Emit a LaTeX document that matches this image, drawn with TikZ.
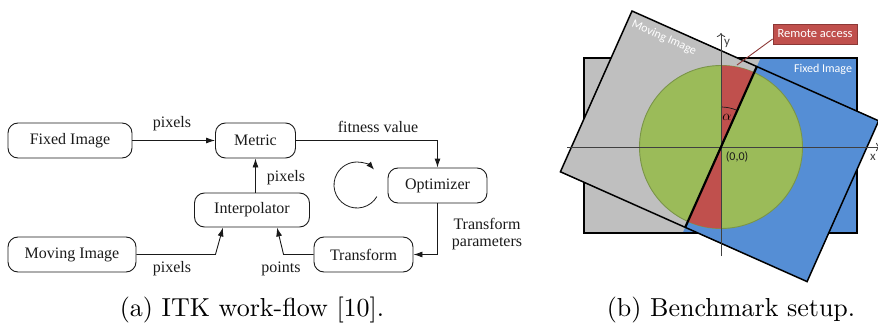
\documentclass[tikz,border=0pt]{standalone}
\usepackage{fontspec}
\newfontfamily\flowfont{Liberation Serif}
\newfontfamily\calfont{Carlito}
\newfontfamily\capfont{lmroman10-regular.otf}
\usetikzlibrary{arrows.meta,calc}
\definecolor{imggray}{HTML}{BFBFBF}
\definecolor{imgblue}{HTML}{558ED5}
\definecolor{circgreen}{HTML}{9BBB59}
\definecolor{circgreendark}{HTML}{7A9548}
\definecolor{accred}{HTML}{C0504D}
\definecolor{accreddark}{HTML}{8C3836}
\definecolor{axisgray}{HTML}{404040}
\definecolor{inkc}{HTML}{1A1A1A}
\begin{document}
\begin{tikzpicture}[x=1pt,y=1pt,
  block/.style={draw=inkc, rounded corners=10pt, line width=0.9pt, inner sep=0pt, text=inkc,
                font=\flowfont\fontsize{16}{19}\selectfont},
  flow/.style={draw=inkc, line width=0.9pt, -{Latex[length=9pt,width=6pt]}},
  lbl/.style={font=\flowfont\fontsize{16}{16.5}\selectfont, inner sep=0pt, text=inkc},
  side/.style={font=\calfont\fontsize{12}{14}\selectfont, inner sep=0pt},
  captext/.style={font=\capfont\fontsize{26}{30}\selectfont, inner sep=0pt}]
\useasboundingbox (0,0) rectangle (878,-326);

% ---------------- (a) flowchart ----------------
\node[block, minimum width=124pt, minimum height=35pt] (fixed) at (70,-140.5) {Fixed Image};
\node[block, minimum width=80pt, minimum height=35pt] (metric) at (255.5,-140.5) {Metric};
\node[block, minimum width=115pt, minimum height=34pt] (interp) at (252,-210) {Interpolator};
\node[block, minimum width=128pt, minimum height=35pt] (moving) at (72,-254.5) {Moving Image};
\node[block, minimum width=99pt, minimum height=35pt] (optim) at (437.5,-185.5) {Optimizer};
\node[block, minimum width=99pt, minimum height=35pt] (transf) at (363.5,-254.5) {Transform};

\draw[flow] (fixed.east) -- (metric.west);
\draw[flow] (metric.east) -| (optim.north);
\draw[flow] (metric.south |- interp.north) -- (metric.south);
\coordinate (mvbend) at ($(moving.east)+(79,0)$);
\coordinate (mvend) at ($(interp.south)+(-29,0)$);
\draw[flow] (moving.east) -- (mvbend) -- (mvend);
\coordinate (trbend) at ($(transf.west)+(-30,0)$);
\coordinate (trend) at ($(interp.south)+(25,0)$);
\draw[flow] (transf.west) -- (trbend) -- (trend);
\draw[flow] (optim.south) |- (transf.east);

\node[lbl] (l1) at (172,-124) {pixels};
\node[lbl] (l2) at (378,-127) {fitness value};
\node[lbl] (l3) at (286,-178) {pixels};
\node[lbl] (l4) at (172,-269) {pixels};
\node[lbl] (l5) at (281,-269) {points};
\node[lbl, align=center] (l6) at (487,-234) {Transform\\parameters};

\coordinate (loopc) at (357,-185);
\draw[draw=inkc, line width=0.8pt, -{Latex[length=8pt,width=6pt]}]
  ($(loopc)+(-30:23)$) arc[start angle=-30, end angle=-318, radius=23];

\node[captext] (capa) at (252,-310) {(a) ITK work-flow [10].};

% ---------------- (b) benchmark setup ----------------
\coordinate (O) at (721,-147);
\coordinate (TL) at (632,-11);
\coordinate (TR) at ($(TL)+(-24:270)$);
\coordinate (BL) at ($(TL)+(-114:176)$);
\coordinate (BR) at ($(BL)+(-24:270)$);
\coordinate (Ptop) at ($(TL)!(O)!(TR)$);
\coordinate (Pbot) at ($(BL)!(O)!(BR)$);
\coordinate (H1) at ($(Ptop)!-2!(Pbot)$);
\coordinate (H2) at ($(Pbot)!-2!(Ptop)$);

% fixed image
\fill[imggray] (584,-58) rectangle (857,-233);
\begin{scope}
  \clip (H1) -- (H2) -- ([xshift=600pt]H2) -- ([xshift=600pt]H1) -- cycle;
  \fill[imgblue] (584,-58) rectangle (857,-233);
\end{scope}
\draw[line width=1.3pt] (584,-58) rectangle (857,-233);

% moving image
\fill[imggray] (TL) -- (Ptop) -- (Pbot) -- (BL) -- cycle;
\fill[imgblue] (Ptop) -- (TR) -- (BR) -- (Pbot) -- cycle;
\draw[line width=1.5pt, line join=miter] (TL) -- (TR) -- (BR) -- (BL) -- cycle;

% circle and sectors
\fill[circgreen, draw=circgreendark, line width=0.9pt] (O) circle[radius=81.5];
\fill[accred] (O) -- ++(90:81.5) arc[start angle=90, end angle=66, radius=81.5] -- cycle;
\fill[accred] (O) -- ++(270:81.5) arc[start angle=270, end angle=246, radius=81.5] -- cycle;
\draw[line width=0.7pt, inkc] ($(O)+(90:40)$) arc[start angle=90, end angle=66, radius=40];

% axes
\coordinate (xs) at (567,-147);
\coordinate (xe) at (880,-147);
\coordinate (ys) at (721,-256);
\coordinate (ye) at (721,-33);
\draw[axisgray, line width=0.8pt, -{To[length=4pt]}] (xs) -- (xe);
\draw[axisgray, line width=0.8pt, -{To[length=4pt]}] (ys) -- (ye);

% dividing line
\draw[line width=2.2pt] (Ptop) -- (Pbot);

% labels
\node[side, text=axisgray, font=\calfont\fontsize{13}{15}\selectfont] (ylab) at (727,-43) {y};
\node[side, text=axisgray, font=\calfont\fontsize{13}{15}\selectfont] (xlab) at (873,-157) {x};
\node[side, text=inkc] (orig) at (737,-157) {(0,0)};
\node[inner sep=0pt, text=black, font=\fontsize{15}{17}\selectfont] (alab) at (727,-117) {$\alpha$};
\node[side, text=white, rotate=-24] (mvlab) at (664,-38) {Moving Image};
\node[side, text=white] (fxlab) at (823,-69) {Fixed Image};
\node[side, text=white, fill=accred, draw=accreddark, line width=0.8pt,
      minimum width=84pt, minimum height=20pt, font=\calfont\fontsize{12.5}{14}\selectfont] (remote) at (815,-34) {Remote access};
\coordinate (rtip) at (737,-65);
\draw[accreddark, line width=0.9pt] ($(remote.west)+(0,-5)$) -- (rtip);

\node[captext] (capb) at (731,-310) {(b) Benchmark setup.};
\end{tikzpicture}
\end{document}
